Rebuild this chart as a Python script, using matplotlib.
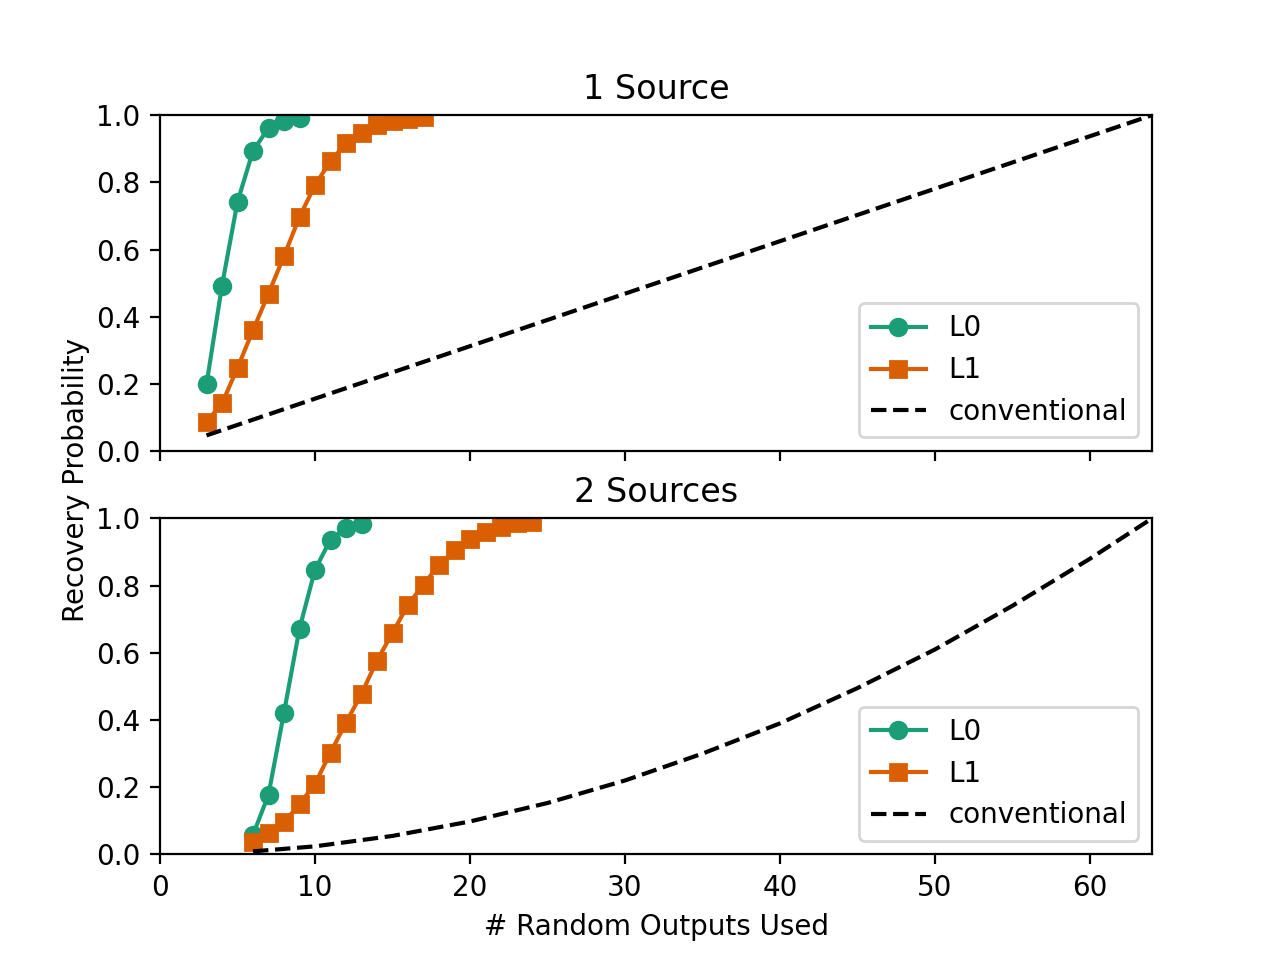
import matplotlib
matplotlib.use('Agg')
import matplotlib.pyplot as plt

# one source
x_l0_1 = [3, 4, 5, 6, 7, 8, 9]
p_l0_1 = [0.199, 0.493, 0.742, 0.894, 0.962, 0.983, 0.991]
x_l1_1 = list(range(3, 18))
p_l1_1 = [0.087, 0.142, 0.248, 0.36, 0.469, 0.581, 0.697, 0.792, 0.863,
          0.916, 0.948, 0.972, 0.982, 0.99, 0.995]
x_conv_1 = [3, 64]
p_conv_1 = [0.047, 1.0]

# two sources
x_l0_2 = list(range(6, 14))
p_l0_2 = [0.058, 0.178, 0.422, 0.672, 0.847, 0.937, 0.972, 0.984]
x_l1_2 = list(range(6, 25))
p_l1_2 = [0.037, 0.063, 0.096, 0.149, 0.21, 0.303, 0.392, 0.478, 0.577,
          0.659, 0.743, 0.803, 0.862, 0.905, 0.938, 0.96, 0.975, 0.985, 0.99]
x_conv_2 = [6, 10, 15, 20, 25, 30, 35, 40, 45, 50, 55, 60, 64]
p_conv_2 = [0.009, 0.024, 0.055, 0.098, 0.153, 0.22, 0.3, 0.39, 0.495,
            0.61, 0.74, 0.88, 1.0]

green = '#1b9e77'
orange = '#d95f02'

fig, (ax1, ax2) = plt.subplots(2, 1, sharex=True, figsize=(6.4, 4.8), dpi=200)

ax1.plot(x_l0_1, p_l0_1, 'o-', color=green, label='L0')
ax1.plot(x_l1_1, p_l1_1, 's-', color=orange, label='L1')
ax1.plot(x_conv_1, p_conv_1, 'k--', label='conventional')
ax1.set_title('1 Source')
ax1.set_ylim(0, 1)
ax1.legend(loc='lower right')

ax2.plot(x_l0_2, p_l0_2, 'o-', color=green, label='L0')
ax2.plot(x_l1_2, p_l1_2, 's-', color=orange, label='L1')
ax2.plot(x_conv_2, p_conv_2, 'k--', label='conventional')
ax2.set_title('2 Sources')
ax2.set_ylim(0, 1)
ax2.set_xlim(0, 64)
ax2.set_xlabel('# Random Outputs Used')
ax2.legend(loc='lower right')

fig.text(0.059, 0.5, 'Recovery Probability', rotation='vertical',
         ha='center', va='center')

plt.savefig('out.png')
